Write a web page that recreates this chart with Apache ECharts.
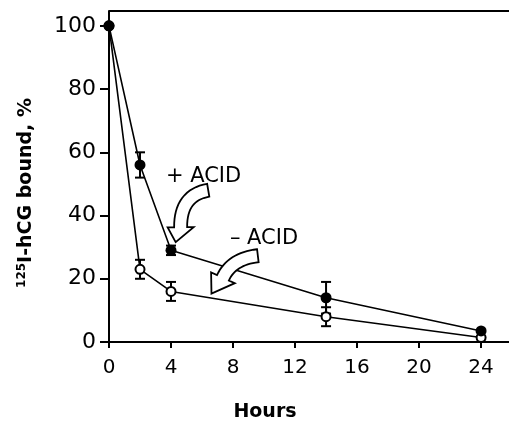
<!DOCTYPE html>
<html>
<head>
<meta charset="utf-8">
<script src="https://cdn.jsdelivr.net/npm/echarts@6/dist/echarts.min.js"></script>
<style>html,body{margin:0;padding:0;background:#fff;overflow:hidden}#c{width:509px;height:424px}</style>
</head>
<body>
<div id="c"></div>
<script>
// ---- data ----
var hours = [0, 2, 4, 14, 24];
var plusAcid = [100, 56, 29, 14, 3.5];
var plusAcidErr = [0, 4, 1.5, 5, 0];
var minusAcid = [100, 23, 16, 8, 1.4];
var minusAcidErr = [0, 3, 3, 3, 0];
var xTicks = [0, 4, 8, 12, 16, 20, 24];
var yTicks = [0, 20, 40, 60, 80, 100];
var xMax = 25.8;
var yMax = 104.7;
var xTitle = 'Hours';
var yTitle = '{sup|125}{main|I-hCG bound, %}';
var plusLabel = '+ ACID';
var minusLabel = '\u2013 ACID';

var FONT = 'DejaVu Sans';
function pairs(ys) { return hours.map(function (h, i) { return [h, ys[i]]; }); }
function errs(ys, es) {
  return hours.map(function (h, i) { return [h, ys[i] - es[i], ys[i] + es[i]]; })
    .filter(function (d) { return d[2] - d[1] > 0; });
}
function errSeries(data) {
  return {
    type: 'custom', data: data, z: 2, silent: true,
    renderItem: function (params, api) {
      var lo = api.coord([api.value(0), api.value(1)]);
      var hi = api.coord([api.value(0), api.value(2)]);
      var cw = 5;
      var st = { stroke: '#000', lineWidth: 2 };
      return { type: 'group', children: [
        { type: 'line', shape: { x1: lo[0], y1: lo[1], x2: hi[0], y2: hi[1] }, style: st },
        { type: 'line', shape: { x1: lo[0] - cw, y1: lo[1], x2: lo[0] + cw, y2: lo[1] }, style: st },
        { type: 'line', shape: { x1: hi[0] - cw, y1: hi[1], x2: hi[0] + cw, y2: hi[1] }, style: st }
      ]};
    }
  };
}

var chart = echarts.init(document.getElementById('c'));
var option = {
  animation: false,
  grid: { left: 109, right: -2, top: 11, bottom: 82 },
  xAxis: {
    type: 'value', min: 0, max: xMax,
    axisLine: { lineStyle: { color: '#000', width: 2 } },
    axisTick: { customValues: xTicks, length: 6, lineStyle: { color: '#000', width: 2 } },
    axisLabel: { customValues: xTicks, color: '#000', fontFamily: FONT, fontSize: 20, margin: 16 },
    splitLine: { show: false }
  },
  yAxis: {
    type: 'value', min: 0, max: yMax,
    axisLine: { lineStyle: { color: '#000', width: 2 } },
    axisTick: { customValues: yTicks, length: 9, lineStyle: { color: '#000', width: 2 } },
    axisLabel: { customValues: yTicks, color: '#000', fontFamily: FONT, fontSize: 22, margin: 13 },
    splitLine: { show: false }
  },
  series: [
    errSeries(errs(plusAcid, plusAcidErr)),
    errSeries(errs(minusAcid, minusAcidErr)),
    {
      type: 'line', data: pairs(minusAcid), z: 3,
      symbol: 'circle', symbolSize: 9,
      lineStyle: { color: '#000', width: 1.6 },
      itemStyle: { color: '#fff', borderColor: '#000', borderWidth: 2 },
      markLine: {
        silent: true, symbol: 'none', label: { show: false },
        lineStyle: { color: '#000', width: 2, type: 'solid' },
        emphasis: { disabled: true },
        data: [{ yAxis: yMax }]
      }
    },
    {
      type: 'line', data: pairs(plusAcid), z: 4,
      symbol: 'circle', symbolSize: 11,
      lineStyle: { color: '#000', width: 1.6 },
      itemStyle: { color: '#000', borderColor: '#000', borderWidth: 0 }
    }
  ]
};
chart.setOption(option);

function px(p) { return chart.convertToPixel({ xAxisIndex: 0, yAxisIndex: 0 }, p); }
function arrow(S, C, E, T, w, hw) {
  S = px(S); C = px(C); E = px(E); T = px(T);
  var left = [], right = [], n = 16, nx = 0, ny = 0;
  for (var i = 0; i <= n; i++) {
    var t = i / n, u = 1 - t;
    var x = u * u * S[0] + 2 * u * t * C[0] + t * t * E[0];
    var y = u * u * S[1] + 2 * u * t * C[1] + t * t * E[1];
    var dx = 2 * u * (C[0] - S[0]) + 2 * t * (E[0] - C[0]);
    var dy = 2 * u * (C[1] - S[1]) + 2 * t * (E[1] - C[1]);
    var L = Math.sqrt(dx * dx + dy * dy);
    nx = -dy / L; ny = dx / L;
    left.push([x + nx * w / 2, y + ny * w / 2]);
    right.push([x - nx * w / 2, y - ny * w / 2]);
  }
  var pts = left.concat([[E[0] + nx * hw, E[1] + ny * hw], T, [E[0] - nx * hw, E[1] - ny * hw]]).concat(right.reverse());
  return { type: 'polygon', shape: { points: pts }, style: { fill: '#fff', stroke: '#000', lineWidth: 1.8, lineJoin: 'miter' }, z: 10 };
}
var a1 = px([6.1, 52.2]), a2 = px([10.0, 32.6]);
var topRight = px([xMax, yMax]), bottomRight = px([xMax, 0]);
chart.setOption({
  graphic: [
    arrow([6.4, 48.0], [4.6, 46.5], [4.62, 36.3], [4.30, 31.6], 13, 13),
    arrow([9.6, 27.3], [7.9, 26.3], [7.35, 20.3], [6.61, 15.3], 13, 13),
    { type: 'rect', z: 100, silent: true,
      shape: { x: 503, y: topRight[1] + 2, width: 20, height: bottomRight[1] - topRight[1] - 4 },
      style: { fill: '#fff' } },
    { type: 'text', x: a1[0], y: a1[1], z: 11, style: { text: plusLabel, font: '21px "DejaVu Sans"', fill: '#000', align: 'center', verticalAlign: 'middle' } },
    { type: 'text', x: a2[0], y: a2[1], z: 11, style: { text: minusLabel, font: '21px "DejaVu Sans"', fill: '#000', align: 'center', verticalAlign: 'middle' } },
    { type: 'text', x: 265, y: 412, style: { text: xTitle, font: 'bold 19px "DejaVu Sans"', fill: '#000', align: 'center', verticalAlign: 'middle' } },
    { type: 'text', x: 26, y: 193, rotation: Math.PI / 2, style: {
        text: yTitle, fill: '#000', align: 'center', verticalAlign: 'middle',
        rich: {
          sup: { fontFamily: FONT, fontWeight: 'bold', fontSize: 12, verticalAlign: 'top', padding: [0, 0, 8, 0] },
          main: { fontFamily: FONT, fontWeight: 'bold', fontSize: 19 }
        }
    } }
  ]
});
</script>
</body>
</html>
